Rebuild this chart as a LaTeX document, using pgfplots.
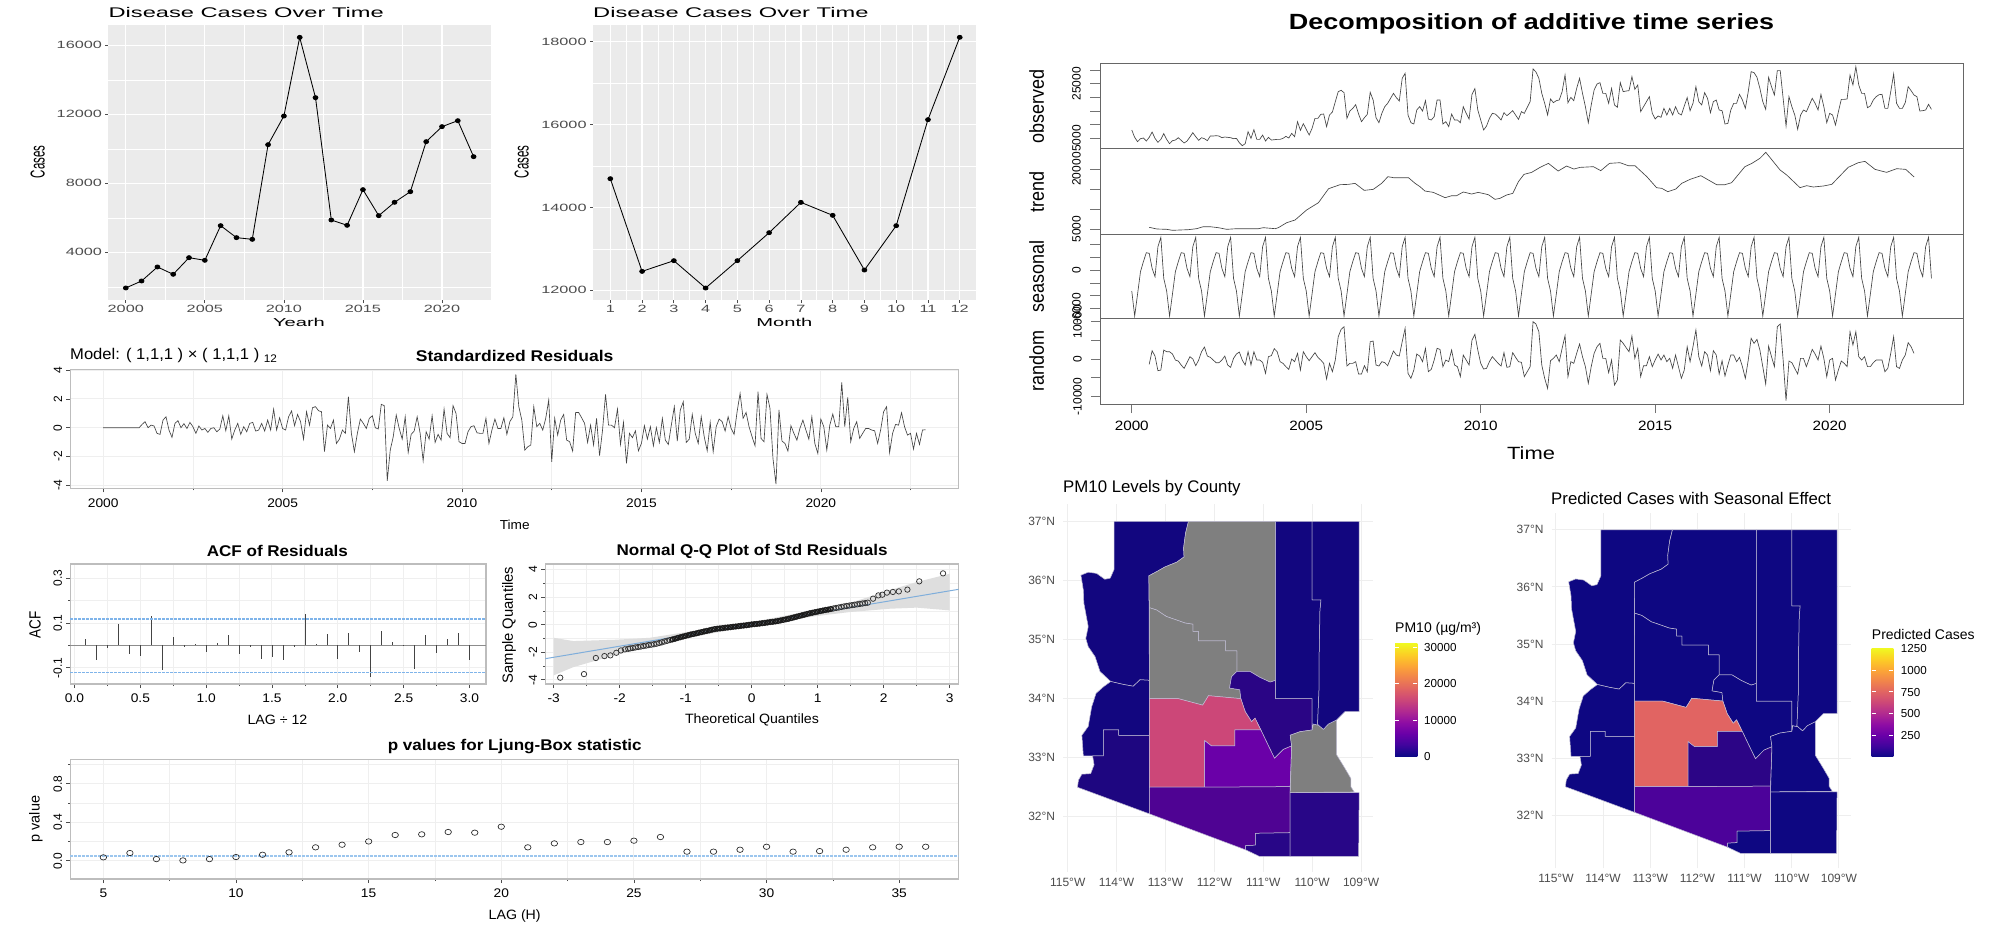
\documentclass[border=0pt]{standalone}
\usepackage{fontspec}
\setmainfont{Liberation Sans}
\usepackage{graphicx}
\usepackage{pgfplots}
\usepackage{pgfplotstable}
\pgfplotsset{compat=1.18}
\newcommand\fs[1]{\fontsize{#1}{#1}\selectfont}
\newcommand\sx[2]{\scalebox{#1}[1]{#2}}
\definecolor{gpanel}{HTML}{EBEBEB}
\definecolor{gtick}{HTML}{4D4D4D}
\definecolor{tsline}{HTML}{444444}
\definecolor{astbox}{HTML}{BDBDBD}
\definecolor{astgrid}{HTML}{EFEFEF}
\definecolor{bluedash}{HTML}{7FB4EA}
\definecolor{bluedashb}{HTML}{9CC6EE}
\definecolor{blueline}{HTML}{7FAEDB}
\definecolor{mapgrid}{HTML}{EEEEEE}
\definecolor{mapedge}{HTML}{C0BDD4}
\definecolor{pA}{HTML}{12067F}
\definecolor{pB}{HTML}{1E0680}
\definecolor{pC}{HTML}{2A0585}
\definecolor{pD}{HTML}{CC4778}
\definecolor{pE}{HTML}{6A00A8}
\definecolor{pF}{HTML}{4F0393}
\definecolor{pG}{HTML}{280687}
\definecolor{pgray}{HTML}{7F7F7F}
\definecolor{qA}{HTML}{0E0782}
\definecolor{qB}{HTML}{E16462}
\definecolor{qC}{HTML}{2C0586}
\definecolor{qD}{HTML}{4C029A}
\definecolor{c0}{HTML}{0D0887}\definecolor{c1}{HTML}{41049D}\definecolor{c2}{HTML}{6A00A8}\definecolor{c3}{HTML}{8F0DA4}\definecolor{c4}{HTML}{B12A90}\definecolor{c5}{HTML}{CC4778}\definecolor{c6}{HTML}{E16462}\definecolor{c7}{HTML}{F1844B}\definecolor{c8}{HTML}{FCA636}\definecolor{c9}{HTML}{FCCE25}\definecolor{c10}{HTML}{F0F921}
\pgfdeclareverticalshading{plasmaramp}{100bp}{color(0bp)=(c0);color(25bp)=(c0);color(30bp)=(c1);color(35bp)=(c2);color(40bp)=(c3);color(45bp)=(c4);color(50bp)=(c5);color(55bp)=(c6);color(60bp)=(c7);color(65bp)=(c8);color(70bp)=(c9);color(75bp)=(c10);color(100bp)=(c10)}

\pgfplotstableread[header=false]{
0
0
0
0
0
0
0
0
0
0
0
0
0
.23
.42
0
.18
.12
-.39
-.46
.53
.76
-.16
-.67
.30
.49
0
.28
-.05
.37
.07
-.39
.12
-.16
-.05
-.32
-.05
0
-.28
-.09
.83
-.21
.83
-.79
-.16
.30
-.46
.07
-.28
.30
.37
-.23
-.16
.30
-.23
.53
-.16
1.29
-.16
.69
-.05
-.16
.76
1.16
.14
.92
.42
-.79
1.11
.18
1.39
1.46
1.18
1.11
-1.66
.18
-.05
.53
-1.09
-.79
-.16
-.39
2.15
-.39
-1.66
-.39
.60
.30
-.05
.65
.83
0
-.09
1.62
1.53
-3.68
-1.55
-.62
.88
-.05
-.79
.76
-1.71
-.46
-.23
.76
-.39
-2.29
-.28
-.79
.83
-1.02
-.46
-.86
1.29
-.39
-.69
1.53
.99
-.97
-1.09
-1.09
-.28
.07
.14
-.35
-.39
-.39
.65
-1.09
-.16
.60
-.05
-.05
.69
-.46
.42
.76
3.70
1.46
.53
-1.55
-1.32
-1.20
1.46
.07
.30
-.16
.65
1.92
-2.36
.65
-.51
.53
.92
-.86
-.97
-1.62
1.06
1.06
.69
.30
-1.02
.18
-1.20
.65
-1.94
-.16
2.31
.18
.18
0
1.29
-1.16
.37
-2.47
-.39
-.69
-.21
-1.60
-1.09
.14
-.79
.07
-1.25
0
-1.02
.65
-.86
-1.16
.18
1.46
-.92
1.23
1.80
-1.02
-.79
.92
-.39
-1.09
.76
-.62
-1.60
.37
-1.66
.07
.60
.42
-.23
.76
-.05
-.46
1.11
2.38
.65
1.06
.07
-.62
-1.25
2.50
-.74
-.97
2.31
1.34
-2.13
-3.91
1.23
-.92
-1.09
-1.62
.14
-.39
-.86
-.05
.53
-.16
-.79
.76
-1.09
-1.78
.60
.07
-1.55
.18
.95
.07
.07
3.14
.07
2.10
-.97
-.05
.42
-.74
-.39
-.05
-.05
-.16
-.21
-1.09
-.16
1.11
1.46
-1.73
-.39
.23
.18
1.04
.07
-.51
-.39
-1.48
-.39
-1.16
-.16
-.14
}\resid

\pgfplotstableread[header=false]{
8050
5370
3780
4880
5120
4020
5370
7320
5000
3540
4630
6710
4630
3050
4150
4390
5240
4270
3290
4020
5490
7070
5610
4270
5240
4880
4150
5850
5850
5980
5850
5240
5490
5370
5240
4880
5000
3410
2320
3050
7440
5000
8170
4630
4630
6220
4020
5370
4390
4510
4630
4630
5000
5730
5120
6830
5610
11100
7930
10370
8290
6220
8660
12320
12320
13780
13900
9270
13540
14640
18420
22080
22570
21710
12320
15000
15980
17320
13900
11100
12560
13780
21840
19030
12560
10730
14150
16590
17810
19640
21470
19880
18660
26960
28790
13540
10730
10250
15370
16590
15000
18790
12080
11710
12930
19030
19030
10250
11100
9270
13900
11710
11710
10730
16590
14150
12080
21100
23180
15370
11710
8050
9510
12320
14150
13900
12930
11710
14390
13300
14150
15130
13540
11950
14760
14150
16350
18420
30380
29280
26960
21470
17810
13540
19400
18050
18790
19030
22080
28180
18050
20010
18790
23300
26960
21470
16590
10730
17200
22690
24890
25370
21470
21470
17810
23300
17200
16350
25370
22080
22320
22450
27570
22930
24520
14760
16590
18420
20250
14150
12080
13170
12690
15980
13540
15980
13540
16590
14150
13540
16830
19880
15130
17810
23910
18420
17200
21710
19640
14390
18420
19030
15370
15130
10250
10490
15370
17810
17810
21100
19030
15980
22080
29400
29030
27330
23300
18420
15610
27330
23910
20860
29770
29770
19640
9510
20250
16590
13540
8290
13540
15370
14760
17200
19640
17810
15370
21100
16590
10730
14150
13540
9880
14760
19270
19270
19400
28180
24520
31230
24520
21470
21470
16220
16830
19030
20250
20980
21100
15980
15980
22080
28550
17810
15980
15980
18050
23910
22450
20860
20250
15000
15130
15370
17440
15610
}\observed

\pgfplotstableread[header=false]{
-1430
2230
800
-3130
-2950
2410
1960
1960
1340
-270
-540
-1610
-2500
-980
630
0
-1790
-270
1960
3210
800
450
-270
-980
-980
-270
800
-1610
-2230
180
1340
1880
-270
-1610
1960
-1610
1960
-270
-270
-890
-3840
630
890
2770
1960
-710
-1160
-2050
-2770
0
-710
1520
-2950
1960
630
-450
630
1700
450
-270
-1160
-5360
-1160
-3390
-270
5980
7950
8660
-1880
-1160
-1160
-710
-4020
-4020
-1790
-3390
4640
4820
-1610
-1880
-710
-980
-1790
180
2140
1070
800
4640
8220
-3840
-5180
-2950
1340
800
-710
2860
-3390
-2770
-270
2860
2590
-2050
-270
-710
2410
-1610
-2050
-4730
1070
-270
-1610
5090
6610
2410
-1160
-2680
-2500
-710
630
-270
-1160
-1880
1700
-2230
-2050
1700
450
-710
-890
-4730
-3390
-2050
10000
9380
7320
-1610
-5180
-7860
-450
180
1070
-710
2860
6250
-4730
-710
-1160
1520
4020
630
-2050
-6520
-2050
1520
3300
4200
180
180
-3660
-270
-6970
-5630
5090
4200
3040
1960
6160
180
2860
-4730
-1790
-1790
630
-2050
-270
1340
-270
1070
-710
180
-2500
1070
-2050
-5180
-2950
3300
-710
3300
7770
630
-1880
1960
1070
-3130
2230
1070
-4020
-450
-4550
-1610
1070
1070
-710
450
-2050
-5180
-270
5540
4200
5270
2410
-2050
-6700
3480
630
-2050
8660
9380
-270
-11160
-540
-980
-2500
-4020
180
180
-2050
180
2590
1340
-270
3480
180
-4730
-270
180
-5630
-2950
-540
-1160
-2050
7320
3750
7320
630
-270
630
-2050
-2050
-980
-270
-270
-270
-3390
-2500
1520
5980
-2050
-2500
-270
1070
4380
3300
1520
}\randomc

\pgfplotstableread[header=false]{
-3240
-7170
-3710
-210
1360
2770
2670
310
-990
3710
5180
-1260
}\seasonA
\pgfplotstableread[header=false]{
-3240
-7170
-3710
-210
1360
2770
2670
310
-990
3710
5180
-1260
-3240
}\seasonB

\pgfplotstableread{
x y
2000.50 5420
2000.72 5000
2001.00 4920
2001.17 4670
2001.38 4750
2001.62 4830
2001.86 5080
2002.05 5580
2002.24 5580
2002.48 5330
2002.72 4920
2003.01 5080
2003.30 5080
2003.63 5080
2003.77 5330
2004.11 5080
2004.20 5330
2004.44 6580
2004.68 7250
2005.01 9750
2005.35 11580
2005.64 15080
2005.97 16080
2006.21 16160
2006.40 16410
2006.66 14660
2006.92 14910
2007.16 16410
2007.34 18080
2007.50 17830
2007.74 17830
2007.93 17830
2008.12 16410
2008.26 15580
2008.40 14500
2008.64 14160
2008.98 12830
2009.17 13330
2009.31 13330
2009.50 14250
2009.74 13750
2009.93 14160
2010.22 13580
2010.41 12410
2010.55 12660
2010.74 13500
2010.92 13910
2011.08 16830
2011.24 18660
2011.46 19160
2011.70 20410
2011.94 21410
2012.22 19490
2012.46 20740
2012.67 19990
2012.85 20410
2013.23 20580
2013.44 19580
2013.69 21410
2013.99 21580
2014.23 20830
2014.42 20830
2014.76 18080
2015.04 15330
2015.19 15160
2015.36 14330
2015.59 15000
2015.76 16410
2016.00 17410
2016.31 18330
2016.76 16080
2017.00 16080
2017.19 16580
2017.57 20580
2017.77 21410
2018.00 22660
2018.17 24160
2018.58 19740
2018.77 18490
2019.15 15330
2019.34 15830
2019.53 15500
2019.82 15750
2020.06 16160
2020.53 20410
2020.82 21580
2021.01 21910
2021.30 19910
2021.63 19160
2021.92 20080
2022.18 19910
2022.42 18000
}\trendc

\pgfplotstableread{
x y
-2.9 -3.85
-2.54 -3.59
-2.36 -2.42
-2.23 -2.28
-2.14 -2.23
-2.05 -2.04
-1.98 -1.87
-1.92 -1.79
-1.87 -1.75
-1.84 -1.72
-1.80 -1.69
-1.76 -1.65
-1.72 -1.62
-1.68 -1.59
-1.64 -1.55
-1.60 -1.52
-1.56 -1.48
-1.52 -1.45
-1.48 -1.42
-1.44 -1.38
-1.40 -1.33
-1.36 -1.28
-1.32 -1.22
-1.28 -1.17
-1.24 -1.12
-1.20 -1.07
-1.16 -1.02
-1.12 -.96
-1.08 -.91
-1.04 -.86
-1.00 -.81
-.96 -.76
-.92 -.71
-.88 -.67
-.84 -.63
-.80 -.58
-.76 -.54
-.72 -.49
-.68 -.45
-.64 -.41
-.60 -.36
-.56 -.32
-.52 -.29
-.48 -.27
-.44 -.25
-.40 -.22
-.36 -.20
-.32 -.18
-.28 -.15
-.24 -.13
-.20 -.11
-.16 -.08
-.12 -.06
-.08 -.04
-.04 -.01
0 .02
.04 .04
.08 .06
.12 .08
.16 .11
.20 .13
.24 .16
.28 .19
.32 .21
.36 .24
.40 .27
.44 .31
.48 .35
.52 .39
.56 .43
.60 .48
.64 .53
.68 .58
.72 .63
.76 .68
.80 .73
.84 .78
.88 .83
.92 .87
.96 .91
1.00 .95
1.04 .99
1.08 1.03
1.12 1.07
1.16 1.10
1.20 1.14
1.24 1.18
1.28 1.22
1.32 1.25
1.36 1.29
1.40 1.33
1.44 1.36
1.48 1.39
1.52 1.42
1.56 1.45
1.60 1.48
1.64 1.51
1.68 1.54
1.72 1.57
1.76 1.60
1.84 1.89
1.92 2.13
1.98 2.18
2.05 2.33
2.14 2.38
2.23 2.42
2.36 2.55
2.54 3.15
2.9 3.73
}\qqpts

% county outlines (longitude, latitude)
\pgfplotstableread{
x y
-114.05 37.0
-112.53 37.0
-112.59 36.80
-112.63 36.55
-112.62 36.40
-112.77 36.31
-113.01 36.23
-113.18 36.15
-113.34 36.08
-113.33 34.31
-113.52 34.32
-113.66 34.21
-113.86 34.24
-114.12 34.29
-114.34 34.46
-114.44 34.71
-114.58 34.88
-114.63 35.02
-114.58 35.22
-114.67 35.62
-114.68 35.84
-114.73 36.09
-114.58 36.14
-114.41 36.12
-114.24 36.02
-114.13 36.04
-114.05 36.19
-114.05 37.0
}\mohave
\pgfplotstableread{
x y
-114.12 34.29
-113.86 34.24
-113.66 34.21
-113.52 34.32
-113.33 34.31
-113.33 33.38
-113.96 33.38
-113.96 33.47
-114.27 33.47
-114.27 33.03
-114.68 33.03
-114.71 33.38
-114.58 33.53
-114.51 33.86
-114.42 34.09
-114.27 34.20
-114.12 34.29
}\lapaz
\pgfplotstableread{
x y
-114.27 33.47
-113.96 33.47
-113.96 33.38
-113.33 33.38
-113.33 32.05
-114.80 32.50
-114.78 32.62
-114.71 32.72
-114.53 32.73
-114.46 32.88
-114.49 33.03
-114.27 33.03
-114.27 33.47
}\yuma
\pgfplotstableread{
x y
-112.53 37.0
-110.75 37.0
-110.75 34.31
-110.86 34.28
-111.07 34.36
-111.27 34.46
-111.54 34.46
-111.54 34.81
-111.77 34.81
-111.77 34.98
-112.33 34.98
-112.33 35.14
-112.44 35.14
-112.44 35.26
-112.60 35.28
-112.77 35.33
-112.98 35.39
-113.18 35.50
-113.33 35.54
-113.34 36.08
-113.18 36.15
-113.01 36.23
-112.77 36.31
-112.62 36.40
-112.63 36.55
-112.59 36.80
-112.53 37.0
}\coconino
\pgfplotstableread{
x y
-113.33 35.54
-113.18 35.50
-112.98 35.39
-112.77 35.33
-112.60 35.28
-112.44 35.26
-112.44 35.14
-112.33 35.14
-112.33 34.98
-111.77 34.98
-111.77 34.81
-111.54 34.81
-111.54 34.46
-111.65 34.37
-111.69 34.18
-111.48 34.15
-111.46 34.00
-112.12 34.05
-112.24 33.89
-112.74 34.00
-113.33 34.00
-113.33 35.54
}\yavapai
\pgfplotstableread{
x y
-111.54 34.46
-111.27 34.46
-111.07 34.36
-110.86 34.28
-110.75 34.31
-110.75 34.00
-110.00 34.00
-110.00 33.47
-110.25 33.44
-110.45 33.38
-110.42 33.20
-110.59 33.14
-110.77 32.99
-110.90 33.21
-111.05 33.47
-111.17 33.67
-111.24 33.61
-111.37 33.78
-111.46 34.00
-111.48 34.15
-111.69 34.18
-111.65 34.37
-111.54 34.46
}\gila
\pgfplotstableread{
x y
-113.33 34.00
-112.74 34.00
-112.24 33.89
-112.12 34.05
-111.46 34.00
-111.37 33.78
-111.24 33.61
-111.17 33.67
-111.05 33.47
-111.58 33.47
-111.58 33.20
-112.06 33.20
-112.20 33.29
-112.20 32.50
-113.33 32.50
-113.33 34.00
}\maricopa
\pgfplotstableread{
x y
-112.20 33.29
-112.06 33.20
-111.58 33.20
-111.58 33.47
-111.05 33.47
-110.90 33.21
-110.77 32.99
-110.59 33.14
-110.42 33.20
-110.45 32.51
-112.20 32.50
-112.20 33.29
}\pinal
\pgfplotstableread{
x y
-113.33 32.50
-112.20 32.50
-110.45 32.51
-110.45 31.73
-111.16 31.72
-111.16 31.52
-111.36 31.51
-111.36 31.44
-113.33 32.05
-113.33 32.50
}\pima
\pgfplotstableread{
x y
-111.16 31.72
-110.45 31.73
-110.45 31.33
-111.08 31.33
-111.36 31.44
-111.36 31.51
-111.16 31.52
-111.16 31.72
}\santacruz
\pgfplotstableread{
x y
-110.45 32.41
-109.04 32.41
-109.05 31.33
-110.45 31.33
-110.45 31.73
-110.45 32.41
}\cochise
\pgfplotstableread{
x y
-110.45 33.38
-110.25 33.44
-110.00 33.47
-109.98 33.57
-109.87 33.55
-109.77 33.48
-109.67 33.57
-109.50 33.64
-109.50 33.05
-109.33 32.82
-109.21 32.65
-109.21 32.51
-109.14 32.42
-110.45 32.41
-110.42 33.20
-110.45 33.38
}\graham
\pgfplotstableread{
x y
-110.75 37.0
-110.00 37.0
-110.00 35.67
-109.82 35.67
-109.84 35.50
-109.86 34.60
-109.86 34.15
-109.89 33.57
-109.87 33.55
-109.98 33.57
-110.00 33.47
-110.00 34.00
-110.75 34.00
-110.75 34.31
-110.75 37.0
}\navajo
\pgfplotstableread{
x y
-110.00 37.0
-109.04 37.0
-109.04 33.78
-109.33 33.78
-109.50 33.64
-109.67 33.57
-109.77 33.48
-109.87 33.55
-109.89 33.57
-109.86 34.15
-109.86 34.60
-109.84 35.50
-109.82 35.67
-110.00 35.67
-110.00 37.0
}\apache

\newcommand\county[2]{\addplot[fill=#1,draw=mapedge,line width=.5pt] table[x=x,y=y] {#2};}

\pgfplotsset{
 base/.style={scale only axis, anchor=north west, clip=true, scaled ticks=false},
 gg/.style={base, width=382.6pt, height=275pt, axis background/.style={fill=gpanel},
   axis line style={draw=none}, grid=both, major grid style={white,line width=1.2pt}, minor grid style={white,line width=.6pt},
   xtick pos=lower, ytick pos=lower, tick align=outside, major tick length=3pt, minor tick length=0pt,
   tick style={color=gtick,line width=.7pt},
   xticklabel style={font=\fs{10.5},text=gtick,xscale=1.55,transform shape,inner sep=1pt,yshift=-1pt},
   yticklabel style={font=\fs{10.5},text=gtick,xscale=1.55,transform shape,inner sep=1pt,xshift=-1pt}},
 ggline/.style={black,line width=.85pt,mark=*,mark size=2pt,mark options={fill=black,xscale=1.2}},
 ast/.style={base, axis line style={color=astbox,line width=1.1pt}, grid=both,
   major grid style={astgrid,line width=1pt}, minor grid style={astgrid,line width=.8pt},
   xtick pos=lower, ytick pos=lower, tick align=outside, major tick length=4pt, minor tick length=2pt,
   tick style={color=black!70,line width=.6pt},
   xticklabel style={font=\fs{12.5},xscale=1.1,transform shape,inner sep=0pt,yshift=-6pt},
   yticklabel style={font=\fs{12},xshift=-4pt,rotate=90,anchor=south,inner sep=0pt}},
 dec/.style={base, xmin=1999.09, xmax=2023.83, width=863.3pt,
   axis line style={color=black!60,line width=.9pt}, xtick=\empty,
   ytick pos=left, tick align=outside, major tick length=10pt,
   tick style={color=black!55,line width=.8pt},
   yticklabel style={font=\fs{12},xshift=-9pt,rotate=90,anchor=south,inner sep=0pt}},
 declin/.style={tsline,line width=.65pt},
 mapax/.style={base, xmin=-115.09, xmax=-108.75, ymin=31.07, ymax=37.29,
   axis line style={draw=none}, grid=major, major grid style={mapgrid,line width=1pt},
   tick style={draw=none}, major tick length=0pt,
   xtick={-115,-114,-113,-112,-111,-110,-109},
   xticklabels={115°W,114°W,113°W,112°W,111°W,110°W,109°W},
   ytick={32,33,34,35,36,37}, yticklabels={32°N,33°N,34°N,35°N,36°N,37°N},
   xticklabel style={font=\fs{12},text=gtick,inner sep=0pt,yshift=-6pt},
   yticklabel style={font=\fs{12},text=gtick,inner sep=0pt,xshift=-8pt}},
}

\begin{document}
\begin{tikzpicture}
\path[use as bounding box,fill=white] (0,0) rectangle (1991pt,-937pt);

% ---- yearly
\begin{axis}[gg, at={(108.4pt,-25pt)}, xmin=1998.9, xmax=2023.1, ymin=1235, ymax=17177,
  xtick={2000,2005,2010,2015,2020}, xticklabels={2000,2005,2010,2015,2020},
  minor xtick={2002.5,2007.5,2012.5,2017.5},
  ytick={4000,8000,12000,16000}, yticklabels={4000,8000,12000,16000},
  minor ytick={2000,6000,10000,14000}]
\addplot[ggline] coordinates {(2000,1933)(2001,2338)(2002,3150)(2003,2725)(2004,3690)(2005,3536)(2006,5545)(2007,4850)(2008,4753)(2009,10240)(2010,11900)(2011,16460)(2012,12965)(2013,5874)(2014,5565)(2015,7632)(2016,6125)(2017,6898)(2018,7516)(2019,10414)(2020,11284)(2021,11630)(2022,9545)};
\end{axis}

% ---- monthly
\begin{axis}[gg, at={(593pt,-25pt)}, xmin=0.455, xmax=12.5, ymin=11767, ymax=18402,
  xtick={1,2,3,4,5,6,7,8,9,10,11,12}, xticklabels={1,2,3,4,5,6,7,8,9,10,11,12},
  minor xtick={1.5,2.5,3.5,4.5,5.5,6.5,7.5,8.5,9.5,10.5,11.5},
  ytick={12000,14000,16000,18000}, yticklabels={12000,14000,16000,18000},
  minor ytick={13000,15000,17000}]
\addplot[ggline] coordinates {(1,14694)(2,12458)(3,12716)(4,12056)(5,12716)(6,13391)(7,14123)(8,13810)(9,12490)(10,13560)(11,16118)(12,18105)};
\end{axis}

% ---- standardized residuals
\begin{axis}[ast, at={(70.2pt,-369.3pt)}, width=888.4pt, height=119pt, xmin=1999.08, xmax=2023.84, ymin=-4.2, ymax=4.05,
  xtick={2000,2005,2010,2015,2020}, xticklabels={2000,2005,2010,2015,2020},
  minor xtick={2002.5,2007.5,2012.5,2017.5,2022.5},
  ytick={-4,-2,0,2,4}, yticklabels={-4,-2,0,2,4}]
\addplot[declin] table[x expr={2000+\coordindex/12},y index=0] {\resid};
\addplot[black!50,line width=1.5pt] coordinates {(2000,0)(2001,0)};
\end{axis}

% ---- ACF
\begin{axis}[ast, at={(70.2pt,-564pt)}, width=415.8pt, height=120pt, xmin=-0.033, xmax=3.126, ymin=-0.173, ymax=0.364,
  xtick={0,.5,1,1.5,2,2.5,3}, xticklabels={0.0,0.5,1.0,1.5,2.0,2.5,3.0},
  minor xtick={.25,.75,1.25,1.75,2.25,2.75},
  ytick={-.1,.1,.3}, yticklabels={-0.1,0.1,0.3}, minor ytick={0,.2}]
\addplot[black!45,line width=.9pt] coordinates {(-0.033,0)(3.126,0)};
\addplot[ycomb,tsline,line width=.6pt] coordinates {(.083,.027)(.167,-.067)(.25,-.010)(.333,.097)(.417,-.039)(.5,-.048)(.583,.131)(.667,-.110)(.75,.036)(.833,-.006)(.917,.007)(1,-.030)(1.083,.009)(1.167,.045)(1.25,-.037)(1.333,-.006)(1.417,-.060)(1.5,-.051)(1.583,-.067)(1.667,-.006)(1.75,.142)(1.833,.006)(1.917,.051)(2,-.061)(2.083,.055)(2.167,-.028)(2.25,-.142)(2.333,.064)(2.417,.016)(2.5,.001)(2.583,-.106)(2.667,.048)(2.75,-.033)(2.833,.028)(2.917,.054)(3,-.064)};
\addplot[bluedash,line width=1.3pt,dash pattern=on 2.5pt off 1.5pt] coordinates {(-0.033,.118)(3.126,.118)};
\addplot[bluedash,line width=1.3pt,dash pattern=on 2.5pt off 1.5pt] coordinates {(-0.033,-.121)(3.126,-.121)};
\end{axis}

% ---- QQ
\begin{axis}[ast, at={(545.3pt,-564pt)}, width=413.3pt, height=120pt, xmin=-3.126, xmax=3.136, ymin=-4.31, ymax=4.41,
  xtick={-3,-2,-1,0,1,2,3}, xticklabels={-3,-2,-1,0,1,2,3},
  minor xtick={-2.5,-1.5,-.5,.5,1.5,2.5},
  ytick={-4,-2,0,2,4}, yticklabels={-4,-2,0,2,4}, minor ytick={-3,-1,1,3}]
\addplot[fill=black!13,draw=none] coordinates {(-3,-.95)(-2.7,-1.19)(-2.05,-1.09)(-1.54,-.95)(-.98,-.53)(0,.19)(.98,1.09)(1.49,1.58)(2.09,2.5)(2.5,3.1)(3,3.7)(3,1.04)(2.5,1.24)(2.09,1.16)(1.49,.92)(.98,.63)(0,-.1)(-.98,-.97)(-1.54,-1.62)(-2.05,-2.18)(-2.7,-3.08)(-3,-3.68)(-3,-.95)};
\addplot[only marks,mark=o,mark size=2.7pt,mark options={line width=.75pt,draw=black!80}] table[x=x,y=y] {\qqpts};
\addplot[only marks,restrict x to domain=-1.2:1.2,mark=o,mark size=2.2pt,mark options={line width=1pt,draw=black!90}] table[x=x,y=y] {\qqpts};
\addplot[blueline,line width=1pt] coordinates {(-3.126,-2.47)(3.136,2.57)};
\end{axis}

% ---- Ljung-Box
\begin{axis}[ast, at={(70.2pt,-759.3pt)}, width=888.4pt, height=119.7pt, xmin=3.75, xmax=37.24, ymin=-.19, ymax=1.053,
  xtick={5,10,15,20,25,30,35}, xticklabels={5,10,15,20,25,30,35},
  minor xtick={7.5,12.5,17.5,22.5,27.5,32.5},
  ytick={0,.4,.8}, yticklabels={0.0,0.4,0.8}, minor ytick={.2,.6,1}]
\addplot[bluedashb,line width=1.5pt,dash pattern=on 2.5pt off 1.5pt] coordinates {(3.75,.05)(37.24,.05)};
\addplot[only marks,mark=o,mark size=2.7pt,mark options={line width=.65pt,draw=black!85,xscale=1.2}] coordinates {(5,.035)(6,.08)(7,.017)(8,.003)(9,.017)(10,.038)(11,.062)(12,.087)(13,.139)(14,.166)(15,.2)(16,.267)(17,.274)(18,.298)(19,.291)(20,.353)(21,.139)(22,.18)(23,.194)(24,.194)(25,.208)(26,.246)(27,.094)(28,.094)(29,.114)(30,.145)(31,.094)(32,.1)(33,.114)(34,.139)(35,.145)(36,.145)};
\end{axis}

% ---- decomposition
\begin{axis}[dec, at={(1100pt,-63.3pt)}, height=85.4pt, ymin=1218, ymax=32450,
  ytick={5000,10000,15000,20000,25000,30000}, yticklabels={5000,,,,25000,}]
\addplot[declin] table[x expr={2000+\coordindex/12},y index=0] {\observed};
\end{axis}
\begin{axis}[dec, at={(1100pt,-148.7pt)}, height=85.3pt, ymin=3750, ymax=25075,
  ytick={5000,10000,15000,20000}, yticklabels={5000,,,20000}]
\addplot[declin] table[x=x,y=y] {\trendc};
\end{axis}
\begin{axis}[dec, at={(1100pt,-234pt)}, height=84.7pt, ymin=-7584, ymax=5700,
  ytick={-6000,-4000,-2000,0,2000,4000}, yticklabels={-6000,,,0,,}]
\pgfplotsinvokeforeach{0,...,21}{\addplot[declin] table[x expr={2000+#1+\coordindex/12},y index=0] {\seasonB};}
\addplot[declin] table[x expr={2022+\coordindex/12},y index=0] {\seasonA};
\end{axis}
\begin{axis}[dec, at={(1100pt,-318.7pt)}, height=85.3pt, ymin=-12055, ymax=10805,
  ytick={-10000,-5000,0,5000,10000}, yticklabels={-10000,,0,,10000},
  xtick={2000,2005,2010,2015,2020}, xticklabels={2000,2005,2010,2015,2020},
  xtick pos=bottom, major tick length=9pt,
  xticklabel style={font=\fs{13.5},xscale=1.13,transform shape,inner sep=0pt,yshift=-8pt}]
\addplot[declin] table[x expr={2000+.5+\coordindex/12},y index=0] {\randomc};
\end{axis}

% ---- map 1
\begin{axis}[mapax, at={(1063.3pt,-504.3pt)}, width=310pt, height=367.4pt]
\county{pA}{\mohave}\county{pA}{\lapaz}\county{pB}{\yuma}\county{pgray}{\coconino}\county{pgray}{\yavapai}
\county{pC}{\gila}\county{pD}{\maricopa}\county{pE}{\pinal}\county{pF}{\pima}\county{pG}{\santacruz}
\county{pG}{\cochise}\county{pgray}{\graham}\county{pA}{\navajo}\county{pA}{\apache}
\end{axis}

% ---- map 2
\begin{axis}[mapax, at={(1551.7pt,-513.3pt)}, width=299pt, height=355pt]
\county{qA}{\mohave}\county{qA}{\lapaz}\county{qA}{\yuma}\county{qA}{\coconino}\county{qA}{\yavapai}
\county{qA}{\gila}\county{qB}{\maricopa}\county{qC}{\pinal}\county{qD}{\pima}\county{qA}{\santacruz}
\county{qA}{\cochise}\county{qA}{\graham}\county{qA}{\navajo}\county{qA}{\apache}
\end{axis}

% ---- colourbars
\shade[shading=plasmaramp] (1395pt,-643.3pt) rectangle (1417.3pt,-756pt);
\foreach \yy in {750,641,533}{
 \draw[white,line width=.5pt] (1395pt,{-470pt-\yy pt/3}) -- ++(4.4pt,0);
 \draw[white,line width=.5pt] (1417.3pt,{-470pt-\yy pt/3}) -- ++(-4.4pt,0);}
\shade[shading=plasmaramp] (1871.7pt,-648.3pt) rectangle (1893.3pt,-756.7pt);
\foreach \yy in {795,731,665,600}{
 \draw[white,line width=.5pt] (1871.7pt,{-470pt-\yy pt/3}) -- ++(4.3pt,0);
 \draw[white,line width=.5pt] (1893.3pt,{-470pt-\yy pt/3}) -- ++(-4.3pt,0);}
\foreach \yy/\tt in {858/0,750/10000,641/20000,533/30000}
 \node[anchor=west,font=\fs{11.6},inner sep=0pt] at (1424pt,{-470pt-\yy pt/3}) {\tt};
\foreach \yy/\tt in {797/250,731/500,666/750,600/1000,536/1250}
 \node[anchor=west,font=\fs{11.6},inner sep=0pt] at (1900.7pt,{-470pt-\yy pt/3}) {\tt};
\node[anchor=west,font=\fs{14},inner sep=0pt] at (1395pt,-629.3pt) {PM10 (µg/m³)};
\node[anchor=west,font=\fs{14},inner sep=0pt] at (1871.7pt,-634.3pt) {Predicted Cases};
\node[anchor=west,font=\fs{16.8},inner sep=0pt] at (1063pt,-488.3pt) {PM10 Levels by County};
\node[anchor=west,font=\fs{16.8},inner sep=0pt] at (1551pt,-498pt) {Predicted Cases with Seasonal Effect};

% ---- decomposition texts
\node[font=\bfseries\fs{22},inner sep=0pt] at (1531.5pt,-24pt) {\sx{1.225}{Decomposition of additive time series}};
\node[font=\fs{18},rotate=90,inner sep=0pt] at (1036.7pt,-106pt) {\scalebox{1}[1.12]{observed}};
\node[font=\fs{18},rotate=90,inner sep=0pt] at (1036.7pt,-191.7pt) {\scalebox{1}[1.12]{trend}};
\node[font=\fs{18},rotate=90,inner sep=0pt] at (1036.7pt,-276.7pt) {\scalebox{1}[1.12]{seasonal}};
\node[font=\fs{18},rotate=90,inner sep=0pt] at (1036.7pt,-361.3pt) {\scalebox{1}[1.12]{random}};
\node[font=\fs{17.7},inner sep=0pt] at (1531pt,-452.7pt) {\sx{1.24}{Time}};

% ---- yearly / monthly texts
\node[anchor=west,font=\fs{14},inner sep=0pt] at (108.4pt,-12.3pt) {\sx{1.69}{Disease Cases Over Time}};
\node[anchor=west,font=\fs{14},inner sep=0pt] at (593pt,-12.3pt) {\sx{1.69}{Disease Cases Over Time}};
\node[font=\fs{11.5},inner sep=0pt] at (299pt,-322.7pt) {\sx{1.75}{Yearh}};
\node[font=\fs{11.5},inner sep=0pt] at (784.4pt,-322.7pt) {\sx{1.75}{Month}};
\node[font=\fs{11.5},rotate=90,inner sep=0pt] at (37.6pt,-162pt) {\scalebox{1}[1.75]{Cases}};
\node[font=\fs{11.5},rotate=90,inner sep=0pt] at (521.7pt,-162pt) {\scalebox{1}[1.75]{Cases}};

% ---- diagnostics texts
\node[anchor=west,font=\fs{15.5},inner sep=0pt] at (70pt,-355pt) {\sx{1.07}{Model: ( 1,1,1 ) × ( 1,1,1 ) \raisebox{-3pt}{\fs{11}12}}};
\node[font=\bfseries\fs{15.5},inner sep=0pt] at (514.7pt,-355.7pt) {\sx{1.13}{Standardized Residuals}};
\node[font=\fs{13},inner sep=0pt] at (514.7pt,-525pt) {\sx{1.05}{Time}};
\node[font=\bfseries\fs{15.5},inner sep=0pt] at (277.4pt,-551pt) {\sx{1.1}{ACF of Residuals}};
\node[font=\bfseries\fs{15.5},inner sep=0pt] at (752pt,-551pt) {\sx{1.1}{Normal Q-Q Plot of Std Residuals}};
\node[font=\fs{13.5},rotate=90,inner sep=0pt] at (35pt,-625pt) {\scalebox{1}[1.2]{ACF}};
\node[font=\fs{14.8},rotate=90,inner sep=0pt] at (509pt,-625pt) {Sample Quantiles};
\node[font=\fs{13.5},inner sep=0pt] at (277.4pt,-720pt) {\sx{1.05}{LAG ÷ 12}};
\node[font=\fs{13.5},inner sep=0pt] at (752pt,-720pt) {\sx{1.05}{Theoretical Quantiles}};
\node[font=\bfseries\fs{15.5},inner sep=0pt] at (514.7pt,-746.7pt) {\sx{1.1}{p values for Ljung-Box statistic}};
\node[font=\fs{14.5},rotate=90,inner sep=0pt] at (36pt,-819pt) {p value};
\node[font=\fs{13.5},inner sep=0pt] at (514.7pt,-916pt) {\sx{1.05}{LAG (H)}};
\end{tikzpicture}
\end{document}
